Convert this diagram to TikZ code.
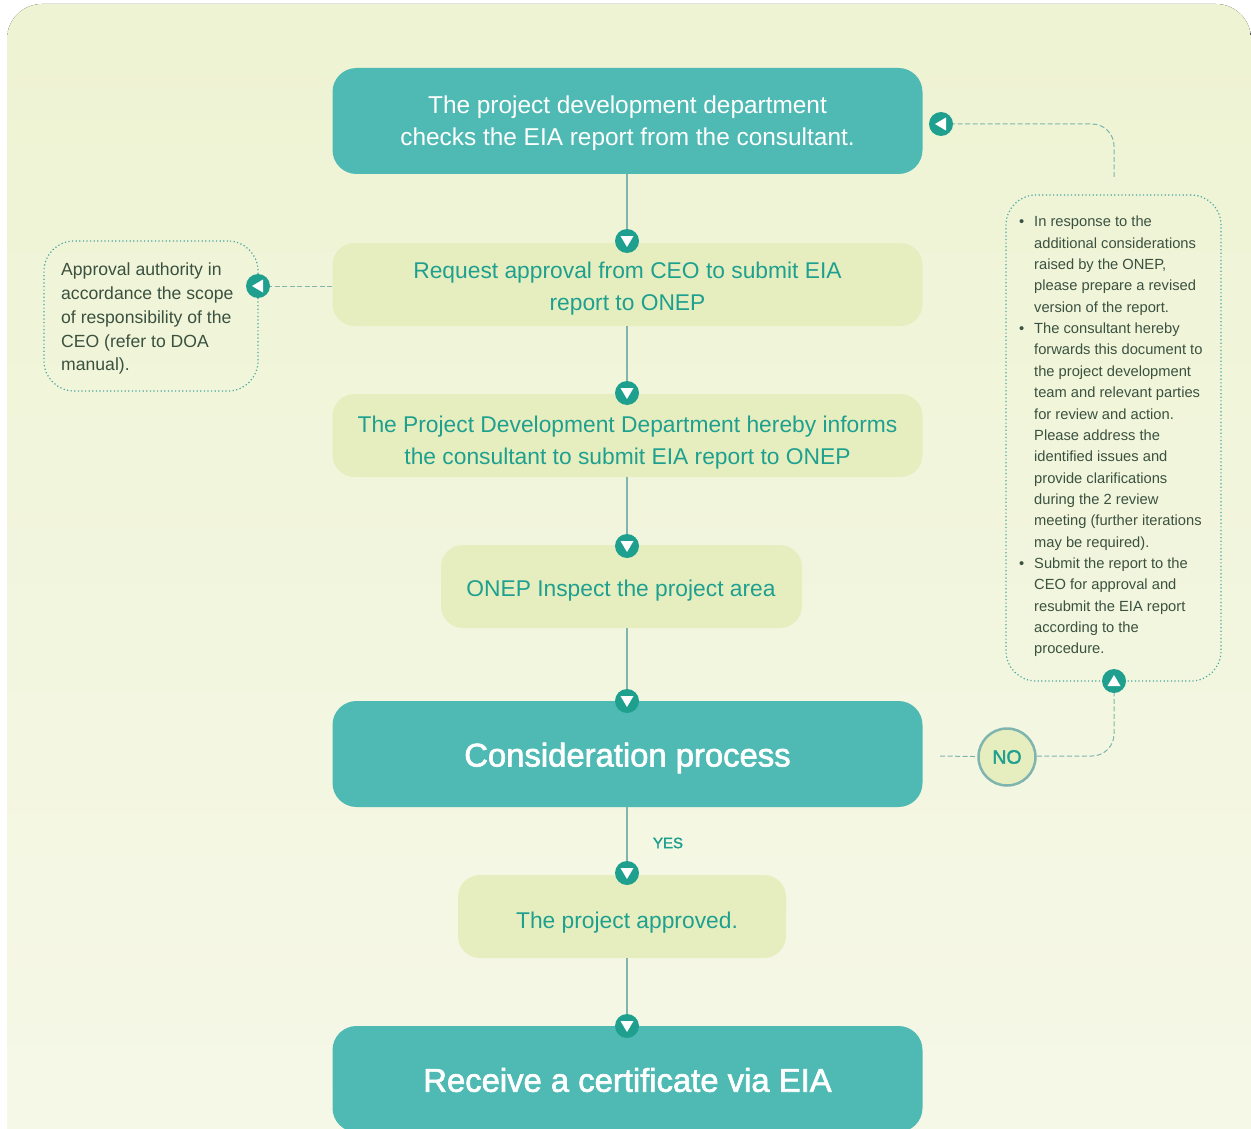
\documentclass[tikz,border=0pt]{standalone}
\usepackage{fontspec}
\setmainfont{Liberation Sans}
\newfontfamily\mediumfont[FakeBold=2]{Liberation Sans}
\definecolor{teal}{HTML}{4FBAB3}
\definecolor{lime}{HTML}{E6EEC0}
\definecolor{markc}{HTML}{1FA08F}
\definecolor{linec}{HTML}{7FB5AE}
\definecolor{darkc}{HTML}{3B5140}
\definecolor{paneltop}{HTML}{EEF3D3}
\definecolor{panelbot}{HTML}{F6F8E8}
\tikzset{mainbox/.style={fill=teal, rounded corners=24pt, inner sep=0pt}}
\tikzset{stepbox/.style={fill=lime, rounded corners=22pt, inner sep=0pt}}
\tikzset{notebox/.style={draw=teal!90!black, line width=1.2pt, dash pattern=on 1.2pt off 2.4pt, rounded corners=30pt, inner sep=0pt}}
\tikzset{whitetext/.style={text=white, align=center, inner sep=0pt, font=\fontsize{24.4}{32}\selectfont}}
\tikzset{limetext/.style={text=markc, align=center, inner sep=0pt, font=\fontsize{22.8}{32}\selectfont}}
\tikzset{bigtext/.style={text=white, inner sep=0pt, font=\mediumfont\fontsize{32.8}{36}\selectfont}}
\tikzset{mk/.style={circle, fill=markc, minimum size=24pt, inner sep=0pt}}
\tikzset{mkdown/.style={mk, path picture={\fill[white, shift={(path picture bounding box.center)}] (-6.5pt,5pt) -- (6.5pt,5pt) -- (0pt,-6pt) -- cycle;}}}
\tikzset{mkup/.style={mk, path picture={\fill[white, shift={(path picture bounding box.center)}] (-6.5pt,-5pt) -- (6.5pt,-5pt) -- (0pt,6pt) -- cycle;}}}
\tikzset{mkleft/.style={mk, path picture={\fill[white, shift={(path picture bounding box.center)}] (5pt,-6.5pt) -- (5pt,6.5pt) -- (-6pt,0pt) -- cycle;}}}
\tikzset{flowline/.style={draw=linec, line width=1.1pt}}
\tikzset{dashline/.style={draw=linec, line width=1pt, dash pattern=on 5pt off 2.5pt, rounded corners=22pt}}
\begin{document}
\begin{tikzpicture}[x=1pt,y=-1pt]
\useasboundingbox (0,0) rectangle (1251,1129);
\fill[rounded corners=35pt, top color=paneltop, bottom color=panelbot] (7,4) rectangle (1251,1160);
\node[mainbox, minimum width=590pt, minimum height=106pt] (check) at (627.5,121) {};
\node[stepbox, minimum width=590pt, minimum height=83pt] (ceo) at (627.5,284.5) {};
\node[stepbox, minimum width=590pt, minimum height=83pt] (inform) at (627.5,435.5) {};
\node[stepbox, minimum width=361pt, minimum height=83pt] (inspect) at (621.5,586.5) {};
\node[mainbox, minimum width=590pt, minimum height=106pt] (consider) at (627.5,754) {};
\node[stepbox, minimum width=328pt, minimum height=83pt] (approved) at (622,916.5) {};
\node[mainbox, minimum width=590pt, minimum height=106pt] (cert) at (627.5,1079) {};
\node[whitetext] (tcheck) at (627.5,123) {The project development department\\checks the EIA report from the consultant.};
\node[limetext] (tceo) at (627.5,288.5) {Request approval from CEO to submit EIA\\report to ONEP};
\node[limetext] (tinform) at (627.5,443) {The Project Development Department hereby informs\\the consultant to submit EIA report to ONEP};
\node[limetext] (tinspect) at (621,591) {ONEP Inspect the project area};
\node[bigtext] (tconsider) at (627.5,758) {Consideration process};
\node[limetext] (tapproved) at (627,923) {The project approved.};
\node[bigtext] (tcert) at (627.5,1080) {Receive a certificate via EIA};
\node[notebox, minimum width=214pt, minimum height=150pt] (authnote) at (151,316) {};
\node[notebox, minimum width=215pt, minimum height=486pt] (revnote) at (1113.5,438) {};
\node[text=darkc, align=left, anchor=north west, inner sep=0pt, font=\fontsize{17.6}{23.7}\selectfont] (tauth) at (61,263) {Approval authority in\\accordance the scope\\of responsibility of the\\CEO (refer to DOA\\manual).};
\node[text=darkc, align=left, anchor=north west, inner sep=0pt, font=\fontsize{14.7}{21.35}\selectfont] (trev) at (1034,216) {\llap{\textbullet\hspace{10pt}}In response to the\\additional considerations\\raised by the ONEP,\\please prepare a revised\\version of the report.\\\llap{\textbullet\hspace{10pt}}The consultant hereby\\forwards this document to\\the project development\\team and relevant parties\\for review and action.\\Please address the\\identified issues and\\provide clarifications\\during the 2 review\\meeting (further iterations\\may be required).\\\llap{\textbullet\hspace{10pt}}Submit the report to the\\CEO for approval and\\resubmit the EIA report\\according to the\\procedure.};
\node[mkdown] (m1) at (627,241) {};
\node[mkdown] (m2) at (627,393) {};
\node[mkdown] (m3) at (627,546) {};
\node[mkdown] (m4) at (627,701) {};
\node[mkdown] (m5) at (627,873) {};
\node[mkdown] (m6) at (627,1026) {};
\node[mkleft] (mauth) at (258,286) {};
\node[mkleft] (mcheck) at (941,124) {};
\node[mkup] (mrev) at (1114,681) {};
\node[circle, fill=lime, draw=linec, line width=2.5pt, minimum size=57pt, inner sep=0pt, text=markc, font=\mediumfont\fontsize{19.5}{19}\selectfont] (no) at (1007,757) {NO};
\node[text=markc, inner sep=0pt, font=\mediumfont\fontsize{15}{15}\selectfont] (yes) at (668,843) {YES};
\coordinate (revout) at (1114,177);
\coordinate (considerout) at (940,756);
\draw[flowline] (check.south -| m1) -- (m1);
\draw[flowline] (ceo.south -| m2) -- (m2);
\draw[flowline] (inform.south -| m3) -- (m3);
\draw[flowline] (inspect.south -| m4) -- (m4);
\draw[flowline] (consider.south -| m5) -- (m5);
\draw[flowline] (approved.south -| m6) -- (m6);
\draw[dashline] (ceo.west |- mauth) -- (mauth);
\draw[dashline] (revout) -- (revout |- mcheck) -- (mcheck);
\draw[dashline] (considerout) -- (no);
\draw[dashline] (no.east |- considerout) -- (mrev |- considerout) -- (mrev);
\end{tikzpicture}
\end{document}
